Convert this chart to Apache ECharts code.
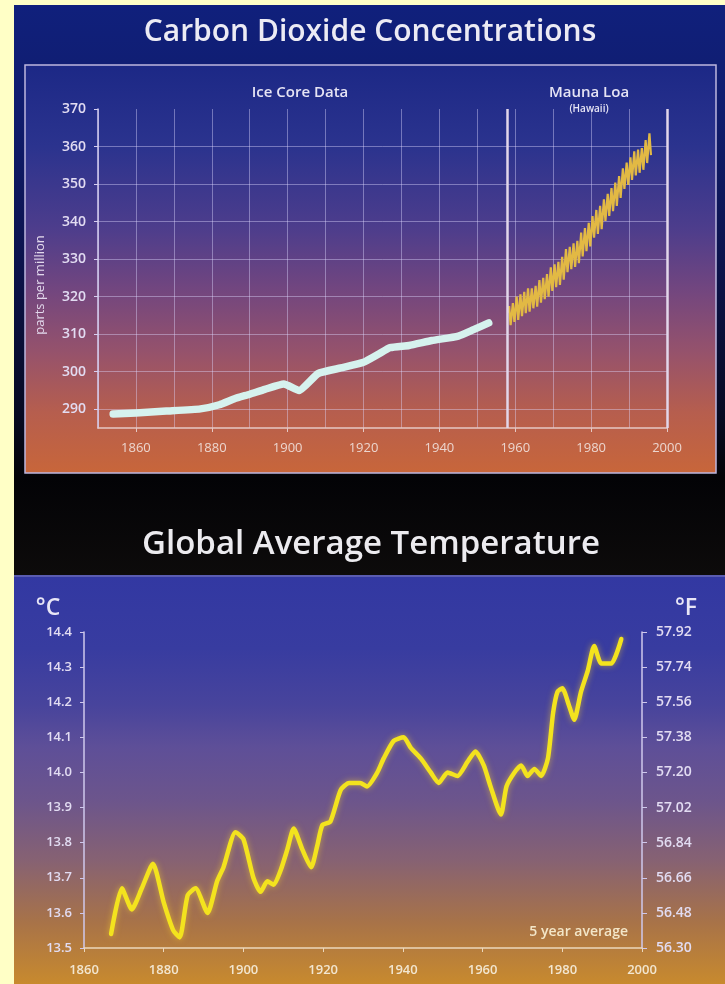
<!DOCTYPE html>
<html>
<head>
<meta charset="utf-8">
<script src="https://cdn.jsdelivr.net/npm/echarts@6/dist/echarts.min.js"></script>
<style>
  html, body { margin: 0; padding: 0; background: #ffffc6; }
  #chart { width: 725px; height: 984px; }
</style>
</head>
<body>
<div id="chart"></div>
<script>
// CO2 from ice cores (year, ppm)
const iceYears = [1854, 1860, 1868, 1877, 1882, 1886, 1890, 1894, 1899, 1903, 1908, 1914, 1920, 1924, 1927, 1932, 1938, 1945, 1949, 1953];
const icePpm   = [288.7, 289.0, 289.5, 290.1, 291.2, 292.8, 294.0, 295.3, 296.7, 295.0, 299.5, 301.0, 302.5, 304.7, 306.4, 307.0, 308.3, 309.5, 311.2, 313.0];

// Mauna Loa record: yearly spring maximum and autumn minimum (ppm)
const mlYears = [1958, 1959, 1960, 1961, 1962, 1963, 1964, 1965, 1966, 1967, 1968, 1969, 1970, 1971, 1972, 1973, 1974, 1975, 1976,
                 1977, 1978, 1979, 1980, 1981, 1982, 1983, 1984, 1985, 1986, 1987, 1988, 1989, 1990, 1991, 1992, 1993, 1994, 1995];
const mlMax = [317.5, 318.3, 320.0, 320.6, 321.3, 322.2, 322.2, 322.9, 324.4, 325.0, 326.0, 327.8, 328.6, 329.3, 330.6, 332.7, 333.3, 334.2, 334.9,
               337.1, 338.3, 339.7, 341.5, 343.1, 344.2, 345.9, 347.4, 348.9, 350.4, 352.1, 354.2, 355.7, 357.1, 358.7, 359.2, 359.6, 361.7, 363.5];
const mlMin = [312.4, 313.3, 313.8, 314.8, 315.6, 316.0, 316.9, 317.3, 318.4, 319.3, 320.0, 321.5, 322.5, 323.1, 324.5, 326.5, 327.3, 327.9, 328.9,
               330.7, 332.1, 333.4, 335.7, 336.7, 338.0, 340.2, 341.5, 342.8, 344.2, 346.3, 348.7, 349.8, 351.1, 352.3, 353.0, 353.8, 355.6, 357.7];
const mlFirst = [1958.2, 315.7];
const MAX_MONTH = 0.37, MIN_MONTH = 0.77;   // fraction of the year of the seasonal peak / trough

// Global average temperature, 5 year average (year, deg C)
const tempYears = [1866.8, 1869.5, 1872.0, 1874.5, 1877.3, 1880.0, 1882.4, 1884.0, 1886.0, 1888.0, 1891.0, 1893.4, 1895.0, 1898.0, 1900.0,
                   1902.5, 1904.3, 1906.0, 1907.6, 1909.3, 1911.0, 1912.6, 1914.8, 1917.0, 1918.5, 1919.8, 1921.8, 1924.4, 1926.5, 1929.3,
                   1931.0, 1933.6, 1935.2, 1937.7, 1940.2, 1942.0, 1944.5, 1947.0, 1949.0, 1951.2, 1953.7, 1956.2, 1958.2, 1960.3, 1962.0,
                   1964.6, 1966.0, 1968.0, 1969.7, 1971.3, 1973.0, 1974.7, 1976.4, 1977.7, 1978.8, 1980.0, 1981.7, 1983.0, 1984.7, 1986.4,
                   1988.0, 1989.8, 1992.3, 1994.8];
const tempC = [13.54, 13.67, 13.61, 13.67, 13.74, 13.63, 13.55, 13.53, 13.65, 13.67, 13.60, 13.69, 13.73, 13.83, 13.81,
               13.70, 13.66, 13.69, 13.68, 13.72, 13.78, 13.84, 13.78, 13.73, 13.79, 13.85, 13.86, 13.95, 13.97, 13.97,
               13.96, 14.00, 14.04, 14.09, 14.10, 14.07, 14.04, 14.00, 13.97, 14.00, 13.99, 14.03, 14.06, 14.02, 13.96,
               13.88, 13.96, 14.00, 14.02, 13.99, 14.01, 13.99, 14.04, 14.17, 14.23, 14.24, 14.19, 14.15, 14.23, 14.29,
               14.36, 14.31, 14.31, 14.38];

// Axis tick labels
const co2Ticks = [290, 300, 310, 320, 330, 340, 350, 360, 370];
const co2GridLines = [290, 300, 310, 320, 330, 340, 350, 360];
const co2YearTicks = [1860, 1880, 1900, 1920, 1940, 1960, 1980, 2000];

const iceData = iceYears.map((y, i) => [y, icePpm[i]]);
const mlData = [mlFirst];
mlYears.forEach((y, i) => {
  mlData.push([y + MAX_MONTH, mlMax[i]]);
  mlData.push([y + MIN_MONTH, mlMin[i]]);
});
const tempData = tempYears.map((y, i) => [y, tempC[i]]);

const FONT = '"Open Sans", "DejaVu Sans", sans-serif';
const grad = (stops) => new echarts.graphic.LinearGradient(0, 0, 0, 1,
  stops.map(s => ({ offset: s[0], color: s[1] })));
const yearLabel = v => String(Math.round(v));

const chart = echarts.init(document.getElementById('chart'), null, { renderer: 'canvas' });

chart.setOption({
  animation: false,
  backgroundColor: '#ffffc6',
  graphic: [
    // upper panel backdrop (navy fading to black)
    { type: 'rect', z: -20, shape: { x: 14, y: 5, width: 711, height: 570 },
      style: { fill: grad([[0, '#10207c'], [0.2, '#101c6c'], [0.45, '#0c134c'], [0.72, '#070a22'], [0.83, '#030306'], [1, '#0d0b0b']]) } },
    // CO2 plot box
    { type: 'rect', z: -19, shape: { x: 25, y: 65, width: 691, height: 408 },
      style: { fill: grad([[0, '#1c2886'], [0.2, '#2b338e'], [0.4, '#4d3d8c'], [0.55, '#72467f'], [0.7, '#95526c'], [0.85, '#b65e4e'], [1, '#c8663a']]),
               stroke: '#bdb6de', lineWidth: 1.5 } },
    // temperature panel backdrop
    { type: 'rect', z: -20, shape: { x: 14, y: 575, width: 711, height: 409 },
      style: { fill: grad([[0, '#3238a2'], [0.18, '#383ca0'], [0.32, '#48449c'], [0.42, '#5e4f98'], [0.55, '#6c558c'], [0.7, '#876272'], [0.85, '#a87348'], [1, '#c88a2e']]) } },
    { type: 'rect', z: -19, shape: { x: 14, y: 575, width: 711, height: 2 }, style: { fill: '#5a5cb0' } },

    { type: 'text', z: 10, x: 370, y: 32,
      style: { text: 'Carbon Dioxide Concentrations', font: '600 30px ' + FONT, fill: '#ecebf4', textAlign: 'center', textVerticalAlign: 'middle' } },
    { type: 'text', z: 10, x: 300, y: 93,
      style: { text: 'Ice Core Data', font: '600 15px ' + FONT, fill: '#e6e4f4', textAlign: 'center', textVerticalAlign: 'middle' } },
    { type: 'text', z: 10, x: 589, y: 93,
      style: { text: 'Mauna Loa', font: '600 15px ' + FONT, fill: '#e6e4f4', textAlign: 'center', textVerticalAlign: 'middle' } },
    { type: 'text', z: 10, x: 589, y: 109,
      style: { text: '(Hawaii)', font: '600 10px ' + FONT, fill: '#e6e4f4', textAlign: 'center', textVerticalAlign: 'middle' } },
    { type: 'text', z: 10, x: 40, y: 285, rotation: Math.PI / 2,
      style: { text: 'parts per million', font: '13px ' + FONT, fill: '#e2d8ec', textAlign: 'center', textVerticalAlign: 'middle' } },

    { type: 'text', z: 10, x: 371, y: 545,
      style: { text: 'Global Average Temperature', font: '600 33px ' + FONT, fill: '#ecebef', textAlign: 'center', textVerticalAlign: 'middle' } },
    { type: 'text', z: 10, x: 48, y: 608,
      style: { text: '°C', font: '600 23px ' + FONT, fill: '#e8e6f6', textAlign: 'center', textVerticalAlign: 'middle' } },
    { type: 'text', z: 10, x: 686, y: 608,
      style: { text: '°F', font: '600 23px ' + FONT, fill: '#e8e6f6', textAlign: 'center', textVerticalAlign: 'middle' } },
    { type: 'text', z: 10, x: 628, y: 932,
      style: { text: '5 year average', font: '600 14px ' + FONT, fill: '#f3e6c8', textAlign: 'right', textVerticalAlign: 'middle' } }
  ],
  grid: [
    { left: 98, top: 109, width: 569, height: 319 },
    { left: 84, top: 632, width: 558, height: 316 }
  ],
  xAxis: [
    { type: 'value', gridIndex: 0, min: 1850, max: 2000,
      axisLine: { lineStyle: { color: '#e6c8c4', width: 1.5 } },
      axisTick: { customValues: co2YearTicks, length: 4, lineStyle: { color: '#e6c8c4' } },
      axisLabel: { customValues: co2YearTicks, margin: 14, color: '#ecd6cf', fontFamily: FONT, fontSize: 13, formatter: yearLabel },
      splitLine: { show: false } },
    { type: 'value', gridIndex: 0, min: 1850, max: 2000, interval: 10,
      axisLine: { show: false }, axisTick: { show: false }, axisLabel: { show: false },
      splitLine: { show: true, lineStyle: { color: 'rgba(222,216,255,0.42)', width: 1 } } },
    { type: 'value', gridIndex: 1, min: 1860, max: 2000, interval: 20,
      axisLine: { lineStyle: { color: '#ecd8bc', width: 1.5 } },
      axisTick: { length: 4, lineStyle: { color: '#ecd8bc' } },
      axisLabel: { margin: 16, color: '#f2e6d0', fontFamily: FONT, fontSize: 13, fontWeight: 600, formatter: yearLabel },
      splitLine: { show: false } }
  ],
  yAxis: [
    { type: 'value', gridIndex: 0, min: 285, max: 370,
      axisLine: { show: true, lineStyle: { color: '#d6cff0', width: 1.5 } },
      axisTick: { show: true, customValues: co2Ticks, length: 4, lineStyle: { color: '#d6cff0' } },
      axisLabel: { customValues: co2Ticks, margin: 12, color: '#e2dcf2', fontFamily: FONT, fontSize: 14, fontWeight: 600 },
      splitLine: { show: false } },
    { type: 'value', gridIndex: 0, min: 285, max: 370,
      axisLine: { show: false }, axisTick: { show: false, customValues: co2GridLines }, axisLabel: { show: false },
      splitLine: { show: true, lineStyle: { color: 'rgba(222,216,255,0.42)', width: 1 } } },
    { type: 'value', gridIndex: 1, min: 13.5, max: 14.4, interval: 0.1,
      axisLine: { show: true, lineStyle: { color: '#cfc8ec', width: 1.5 } },
      axisTick: { show: true, length: 4, lineStyle: { color: '#cfc8ec' } },
      axisLabel: { margin: 12, color: '#e2dcf2', fontFamily: FONT, fontSize: 13, fontWeight: 600,
                   formatter: v => v.toFixed(1) },
      splitLine: { show: false } },
    { type: 'value', gridIndex: 1, position: 'right', min: 13.5, max: 14.4, interval: 0.1,
      axisLine: { show: true, lineStyle: { color: '#cfc8ec', width: 1.5 } },
      axisTick: { show: true, length: 5, lineStyle: { color: '#cfc8ec' } },
      axisLabel: { margin: 14, color: '#e2dcf2', fontFamily: FONT, fontSize: 14, fontWeight: 600,
                   formatter: v => (v * 1.8 + 32).toFixed(2) },
      splitLine: { show: false } }
  ],
  series: [
    { name: 'Ice Core Data', type: 'line', xAxisIndex: 0, yAxisIndex: 0, data: iceData,
      symbol: 'none', smooth: 0.15,
      lineStyle: { color: '#d6f2ee', width: 7.5, cap: 'round', join: 'round' },
      markLine: { silent: true, symbol: 'none', label: { show: false },
        lineStyle: { color: '#e2d6ea', width: 2.5, type: 'solid' },
        data: [{ xAxis: 1958 }, { xAxis: 2000 }] } },
    { name: 'Mauna Loa', type: 'line', xAxisIndex: 0, yAxisIndex: 0, data: mlData,
      symbol: 'none',
      lineStyle: { color: '#e2b944', width: 2.2 } },
    { name: 'Temperature', type: 'line', xAxisIndex: 2, yAxisIndex: 2, data: tempData,
      symbol: 'none', smooth: 0.2,
      lineStyle: { color: '#f3e31e', width: 4.5, cap: 'round', join: 'round',
                   shadowColor: 'rgba(255,214,40,0.55)', shadowBlur: 6 } }
  ]
});
</script>
</body>
</html>
